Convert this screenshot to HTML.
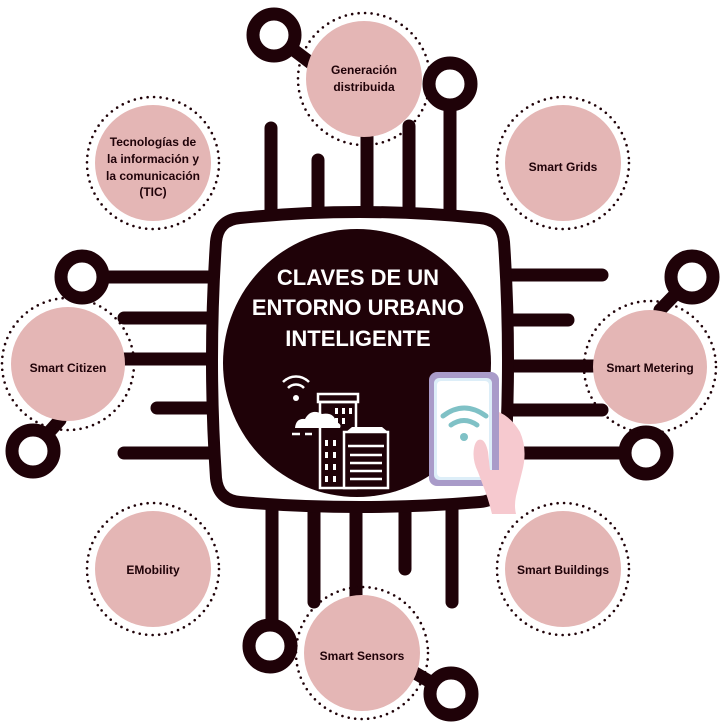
<!DOCTYPE html>
<html><head><meta charset="utf-8"><style>
html,body{margin:0;padding:0;background:#fff;}
svg{display:block;}
text{font-family:"Liberation Sans",sans-serif;font-weight:bold;}
</style></head><body>
<svg width="720" height="726" viewBox="0 0 720 726" xmlns="http://www.w3.org/2000/svg">
<g stroke="#1f0208" stroke-width="13" stroke-linecap="round" fill="none">
  <line x1="271" y1="128" x2="271" y2="220"/>
  <line x1="318" y1="160" x2="318" y2="220"/>
  <line x1="367" y1="130" x2="367" y2="220"/>
  <line x1="409" y1="126" x2="409" y2="220"/>
  <line x1="450" y1="105" x2="450" y2="220"/>
  <line x1="274" y1="35" x2="320" y2="70"/>
  <line x1="272" y1="500" x2="272" y2="625"/>
  <line x1="314" y1="500" x2="314" y2="602"/>
  <line x1="356" y1="500" x2="356" y2="610"/>
  <line x1="405" y1="500" x2="405" y2="569"/>
  <line x1="452" y1="500" x2="452" y2="602"/>
  <line x1="410" y1="670" x2="451" y2="694"/>
  <line x1="103" y1="277" x2="215" y2="277"/>
  <line x1="124" y1="318" x2="215" y2="318"/>
  <line x1="100" y1="359" x2="215" y2="359"/>
  <line x1="157" y1="408" x2="215" y2="408"/>
  <line x1="124" y1="453" x2="215" y2="453"/>
  <line x1="33" y1="450" x2="60" y2="420"/>
  <line x1="505" y1="275" x2="602" y2="275"/>
  <line x1="505" y1="320" x2="568" y2="320"/>
  <line x1="505" y1="366" x2="620" y2="366"/>
  <line x1="505" y1="410" x2="602" y2="410"/>
  <line x1="505" y1="453" x2="626" y2="453"/>
  <line x1="692" y1="277" x2="660" y2="310"/>
  <circle cx="274" cy="35" r="21" fill="#fff"/>
  <circle cx="450" cy="84" r="21" fill="#fff"/>
  <circle cx="82" cy="277" r="21" fill="#fff"/>
  <circle cx="33" cy="451" r="21" fill="#fff"/>
  <circle cx="692" cy="277" r="21" fill="#fff"/>
  <circle cx="646" cy="453" r="21" fill="#fff"/>
  <circle cx="270" cy="646" r="21" fill="#fff"/>
  <circle cx="451" cy="694" r="21" fill="#fff"/>
  <path d="M240 218 Q360 206 480 218 Q502 220 504 242 Q512 360 504 478 Q502 500 480 502 Q360 512 240 502 Q218 500 216 478 Q208 360 216 242 Q218 220 240 218 Z" fill="#fff" stroke-width="12"/>
</g>
<circle cx="357" cy="363" r="134" fill="#1f0208"/>
<g fill="#e4b6b5">
  <circle cx="364" cy="79" r="58"/>
  <circle cx="153" cy="163" r="58"/>
  <circle cx="563" cy="163" r="58"/>
  <circle cx="68" cy="364" r="57"/>
  <circle cx="650" cy="367" r="57"/>
  <circle cx="153" cy="569" r="58"/>
  <circle cx="563" cy="569" r="58"/>
  <circle cx="362" cy="653" r="58"/>
</g>
<g fill="none" stroke="#1f0208" stroke-width="2.6" stroke-dasharray="0 6.5" stroke-linecap="round">
  <circle cx="364" cy="79" r="66"/>
  <circle cx="153" cy="163" r="66"/>
  <circle cx="563" cy="163" r="66"/>
  <circle cx="68" cy="364" r="66"/>
  <circle cx="650" cy="367" r="66"/>
  <circle cx="153" cy="569" r="66"/>
  <circle cx="563" cy="569" r="66"/>
  <circle cx="362" cy="653" r="66"/>
</g>
<g fill="#1f0208" font-size="12" text-anchor="middle">
  <text x="364" y="74">Generación</text>
  <text x="364" y="91">distribuida</text>
  <text x="153" y="146">Tecnologías de</text>
  <text x="153" y="163">la información y</text>
  <text x="153" y="180">la comunicación</text>
  <text x="153" y="196">(TIC)</text>
  <text x="563" y="171">Smart Grids</text>
  <text x="68" y="372">Smart Citizen</text>
  <text x="650" y="372">Smart Metering</text>
  <text x="153" y="574">EMobility</text>
  <text x="563" y="574">Smart Buildings</text>
  <text x="362" y="660">Smart Sensors</text>
</g>
<g fill="#fff" font-size="22" text-anchor="middle">
  <text x="358" y="285">CLAVES DE UN</text>
  <text x="358" y="315">ENTORNO URBANO</text>
  <text x="358" y="346">INTELIGENTE</text>
</g>
<g stroke="#fff" stroke-width="2.5" fill="none">
  <path d="M283 382 A18 18 0 0 1 309 382"/>
  <path d="M288 388 A11 11 0 0 1 304 388"/>
  <rect x="318" y="394" width="40" height="8"/>
  <rect x="320" y="402" width="36" height="86"/>
  <rect x="344" y="432" width="44" height="56" fill="#1f0208"/>
  <line x1="348" y1="446" x2="384" y2="446"/>
  <line x1="350" y1="455" x2="382" y2="455"/>
  <line x1="350" y1="463" x2="382" y2="463"/>
  <line x1="350" y1="471" x2="382" y2="471"/>
  <line x1="350" y1="479" x2="382" y2="479"/>
  <line x1="292" y1="434" x2="300" y2="434"/>
  <line x1="305" y1="434" x2="312" y2="434"/>
</g>
<circle cx="296" cy="398" r="3" fill="#fff"/>
<path d="M295 428 Q296 418 305 419 Q311 408 322 414 Q334 412 336 422 Q342 424 340 428 Z" fill="#fff"/>
<g fill="#fff">
  <rect x="335" y="408" width="3" height="6"/><rect x="342" y="408" width="3" height="6"/><rect x="349" y="408" width="3" height="6"/>
  <rect x="335" y="418" width="3" height="6"/><rect x="342" y="418" width="3" height="6"/>
  <rect x="325" y="440" width="3" height="6"/><rect x="333" y="440" width="3" height="6"/>
  <rect x="325" y="452" width="3" height="6"/><rect x="333" y="452" width="3" height="6"/>
  <rect x="325" y="464" width="3" height="6"/><rect x="333" y="464" width="3" height="6"/>
  <rect x="325" y="476" width="3" height="6"/><rect x="333" y="476" width="3" height="6"/>
  <path d="M346 432 L352 427 L382 427 L388 432 Z"/>
</g>
<rect x="429" y="372" width="70" height="114" rx="8" fill="#a99bc9"/>
<rect x="434" y="378" width="58" height="102" rx="5" fill="#ddeef8"/>
<rect x="437" y="381" width="52" height="96" rx="4" fill="#fff"/>
<g stroke="#7fc1c6" stroke-width="5" fill="none" stroke-linecap="round">
  <path d="M443 416 Q464 400 486 416"/>
  <path d="M451 425 Q464 416 477 425"/>
</g>
<circle cx="464" cy="437" r="4" fill="#7fc1c6"/>
<path d="M499 412 Q512 418 520 432 Q528 450 522 472 L516 496 Q514 506 516 514 L492 514 Q488 498 484 488 L478 472 Q472 460 474 448 Q476 438 482 440 Q486 442 488 452 L490 470 L499 470 Z" fill="#f6c9cf"/>
</svg>
</body></html>
